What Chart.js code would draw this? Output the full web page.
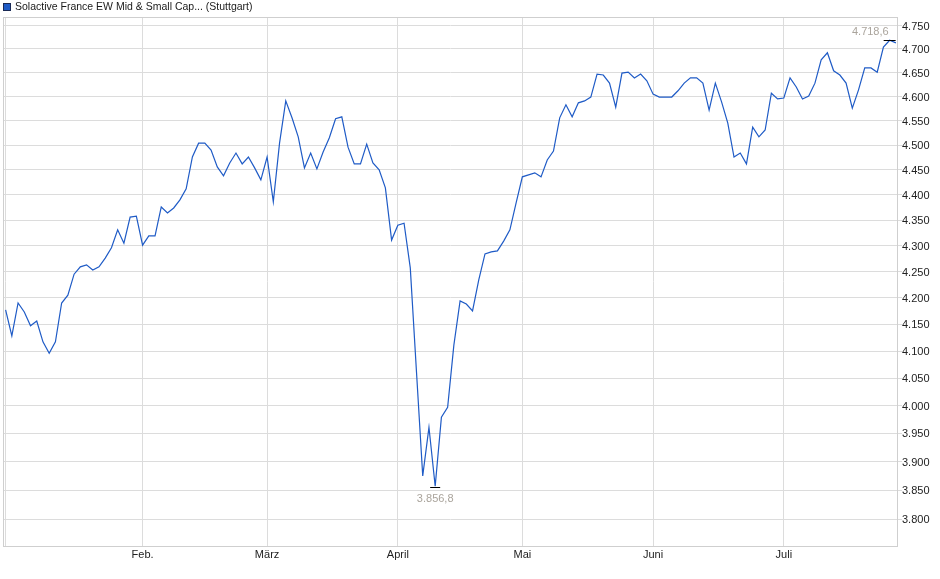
<!DOCTYPE html>
<html>
<head>
<meta charset="utf-8">
<script src="https://cdn.jsdelivr.net/npm/chart.js@4.4.1/dist/chart.umd.min.js"></script>
<style>
  html, body { margin: 0; padding: 0; background: #fff; }
  #wrap { width: 940px; height: 579px; }
</style>
</head>
<body>
<div id="wrap"><canvas id="c" width="940" height="579"></canvas></div>
<script>
// ---- data (trading days from early January to late July) ----
const seriesName = 'Solactive France EW Mid & Small Cap... (Stuttgart)';
const monthLabels = ['Feb.', 'März', 'April', 'Mai', 'Juni', 'Juli'];
const monthStartIdx = [22, 42, 63, 83, 104, 125];
const yTickValues = [3800, 3850, 3900, 3950, 4000, 4050, 4100, 4150, 4200, 4250, 4300, 4350, 4400, 4450, 4500, 4550, 4600, 4650, 4700, 4750];
const closeValues = [
  4177, 4128, 4190, 4173, 4147, 4156, 4117, 4096, 4117, 4190,
  4205, 4245, 4259, 4263, 4253, 4259, 4276, 4296, 4331, 4305,
  4356, 4358, 4301, 4319, 4319, 4376, 4364, 4374, 4390, 4412,
  4476, 4504, 4504, 4490, 4456, 4438, 4464, 4484, 4462, 4476,
  4454, 4430, 4476, 4386, 4504, 4591, 4556, 4517, 4454, 4484,
  4452, 4486, 4515, 4554, 4558, 4496, 4462, 4462, 4502, 4464,
  4450, 4414, 4311, 4340, 4344, 4257, 4061, 3875, 3961, 3856.8,
  3979, 3997, 4111, 4194, 4188, 4175, 4234, 4284, 4288, 4290,
  4309, 4331, 4384, 4436, 4440, 4444, 4436, 4470, 4488, 4556,
  4583, 4558, 4587, 4591, 4599, 4647, 4645, 4628, 4578, 4649,
  4651, 4639, 4647, 4633, 4605, 4599, 4599, 4599, 4612, 4628,
  4639, 4639, 4628, 4572, 4628, 4589, 4545, 4476, 4484, 4462,
  4537, 4517, 4531, 4607, 4595, 4597, 4639, 4620, 4595, 4601,
  4628, 4677, 4692, 4654, 4645, 4628, 4576, 4614, 4660, 4660,
  4651, 4704, 4718.6, 4713
];

const LINE = '#1f5bc6';
const GRID = '#dcdcdc';
const FONT = 'Liberation Sans, Arial, sans-serif';
const fmtInt = v => Math.round(v).toLocaleString('de-DE');
const fmtDec = v => v.toLocaleString('de-DE', { minimumFractionDigits: 1, maximumFractionDigits: 1 });

const points = closeValues.map((v, i) => ({ x: i, y: v }));

const frame = {
  id: 'frame',
  beforeDatasetsDraw(chart) {
    const { ctx, chartArea: a } = chart;
    ctx.save();
    ctx.strokeStyle = '#cfcfcf';
    ctx.lineWidth = 1;
    ctx.strokeRect(Math.round(a.left) + 0.5, Math.round(a.top) + 0.5, Math.round(a.right - a.left) - 1, Math.round(a.bottom - a.top));
    ctx.restore();
  },
  afterDatasetsDraw(chart) {
    const { ctx } = chart;
    const xs = chart.scales.x, ys = chart.scales.y;
    let iMin = 0, iMax = 0;
    closeValues.forEach((v, i) => { if (v < closeValues[iMin]) iMin = i; if (v > closeValues[iMax]) iMax = i; });
    ctx.save();
    ctx.strokeStyle = '#000';
    ctx.lineWidth = 1;
    // max marker
    let px = xs.getPixelForValue(iMax), py = Math.round(ys.getPixelForValue(closeValues[iMax])) + 0.5;
    ctx.beginPath(); ctx.moveTo(px - 6, py); ctx.lineTo(px + 6, py); ctx.stroke();
    ctx.font = '11px ' + FONT;
    ctx.fillStyle = '#aaa49c';
    ctx.textAlign = 'right'; ctx.textBaseline = 'middle';
    ctx.fillText(fmtDec(closeValues[iMax]), px - 1, py - 9);
    // min marker
    px = xs.getPixelForValue(iMin); py = Math.round(ys.getPixelForValue(closeValues[iMin])) + 1.5;
    ctx.beginPath(); ctx.moveTo(px - 5, py); ctx.lineTo(px + 5, py); ctx.stroke();
    ctx.textAlign = 'center';
    ctx.fillText(fmtDec(closeValues[iMin]), px, py + 11);
    // legend
    ctx.fillStyle = LINE;
    ctx.fillRect(3.5, 3.5, 7, 7);
    ctx.strokeStyle = '#1a2a55';
    ctx.strokeRect(3.5, 3.5, 7, 7);
    ctx.font = '10.5px ' + FONT;
    ctx.fillStyle = '#1a1a1a';
    ctx.textAlign = 'left'; ctx.textBaseline = 'middle';
    ctx.fillText(seriesName, 15, 7.5);
    ctx.restore();
  }
};

new Chart(document.getElementById('c'), {
  type: 'line',
  data: {
    datasets: [{
      label: seriesName,
      data: points,
      borderColor: LINE,
      borderWidth: 1.2,
      pointRadius: 0,
      tension: 0,
      fill: false
    }]
  },
  options: {
    responsive: false,
    animation: false,
    devicePixelRatio: 1,
    layout: { padding: { top: 17, left: 3, right: 0, bottom: 0 } },
    plugins: { legend: { display: false }, tooltip: { enabled: false } },
    scales: {
      x: {
        type: 'linear',
        min: -0.42,
        max: 143.34,
        afterBuildTicks: s => { s.ticks = [0].concat(monthStartIdx).map(v => ({ value: v })); },
        afterFit: s => { s.height = 33; },
        ticks: {
          autoSkip: false,
          maxRotation: 0,
          padding: 2,
          color: '#222',
          font: { family: FONT, size: 11 },
          callback: v => { const k = monthStartIdx.indexOf(v); return k >= 0 ? monthLabels[k] : ''; }
        },
        grid: { color: GRID, drawTicks: false },
        border: { display: false }
      },
      y: {
        type: 'logarithmic',
        position: 'right',
        min: 3754,
        max: 4768.5,
        afterBuildTicks: s => { s.ticks = yTickValues.map(v => ({ value: v })); },
        afterFit: s => { s.width = 42; },
        ticks: {
          autoSkip: false,
          padding: 0,
          labelOffset: 1,
          color: '#222',
          font: { family: FONT, size: 11 },
          callback: v => fmtInt(v)
        },
        grid: { color: GRID, tickLength: 4 },
        border: { display: false }
      }
    }
  },
  plugins: [frame]
});
</script>
</body>
</html>
